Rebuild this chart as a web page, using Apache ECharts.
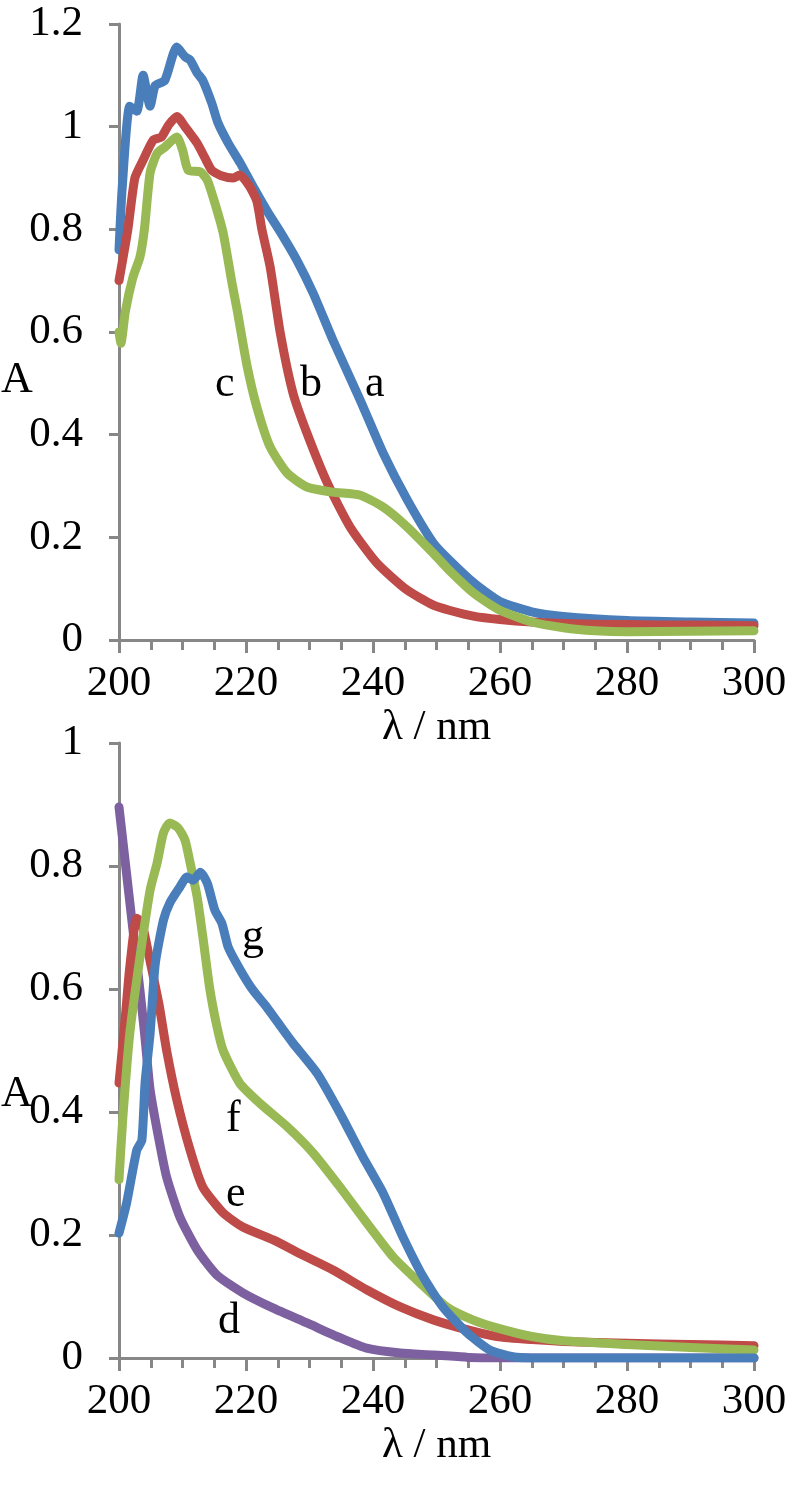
<!DOCTYPE html>
<html><head><meta charset="utf-8">
<script src="https://cdn.jsdelivr.net/npm/echarts@6/dist/echarts.min.js"></script>
<style>html,body{margin:0;padding:0;background:#fff}#c{width:790px;height:1485px}</style>
</head><body><div id="c"></div><script>
// ---- Data ----
const xTicks = [200, 220, 240, 260, 280, 300];

const lamA = [200,200.5,201.7,202.8,203.8,204.9,205.7,207.2,209.1,210.4,211.2,212.3,213.2,214.6,215.6,217.2,219.1,221.4,223.5,225.4,228,230.6,233.7,238,241.6,245.4,249.5,252,256,260,265,270,280,290,300];
const valA = [0.76,0.88,1.04,1.03,1.10,1.04,1.08,1.09,1.155,1.136,1.13,1.105,1.09,1.046,1.007,0.968,0.929,0.877,0.832,0.795,0.74,0.675,0.584,0.467,0.364,0.273,0.189,0.156,0.11,0.075,0.055,0.046,0.038,0.035,0.033];

const lamB = [200,201.4,202.5,203.8,205.4,206.7,207.8,209.1,210.4,212.3,213.5,214.6,216,218,219,220.5,221.7,222.5,223.8,225.4,227.4,229.6,232.8,236.4,240.6,245.4,249.5,252,256,260,265,270,280,290,300];
const valB = [0.70,0.80,0.90,0.935,0.974,0.98,1.003,1.02,1.0,0.968,0.94,0.915,0.905,0.90,0.906,0.885,0.855,0.80,0.727,0.598,0.481,0.403,0.306,0.22,0.15,0.097,0.068,0.058,0.046,0.04,0.035,0.032,0.03,0.029,0.028];

const lamC = [200,200.3,201,202.2,203.3,204,204.9,206,207.2,209.1,210,210.9,212.8,213.9,215.1,216.4,217.8,218.6,220.2,221.7,223.8,226.5,229.6,233.7,238,241.6,245.4,249.5,252,256,260,265,270,275,280,290,300];
const valC = [0.60,0.578,0.64,0.707,0.746,0.80,0.91,0.948,0.96,0.98,0.955,0.915,0.912,0.896,0.851,0.793,0.695,0.643,0.532,0.454,0.376,0.325,0.298,0.288,0.282,0.259,0.22,0.169,0.136,0.09,0.058,0.035,0.024,0.018,0.016,0.017,0.018];

const lamD = [200,201,202.2,203.3,204.1,204.9,206.2,207.5,209.6,212.3,215.4,219.5,224.3,229.6,234.8,239,244.3,249.5,255,260,280,300];
const valD = [0.896,0.805,0.696,0.598,0.52,0.436,0.36,0.294,0.229,0.176,0.135,0.106,0.081,0.057,0.033,0.016,0.008,0.005,0.001,0,0,0];

const lamE = [200,201,201.7,202.8,203.6,204.9,206.3,207.5,209.1,211.2,213.2,216.4,219.5,224.3,229,233.7,239,244.3,249.5,254.8,259.5,265,270,280,290,300];
const valE = [0.447,0.555,0.636,0.715,0.707,0.645,0.575,0.50,0.42,0.338,0.278,0.236,0.213,0.192,0.167,0.143,0.111,0.083,0.062,0.046,0.035,0.03,0.027,0.024,0.022,0.02];

const lamF = [200,200.6,201.7,203.3,204.9,206,207,208,209.3,210.4,211.2,212.3,213.2,214.3,215.4,216.4,219,222.2,226.5,230.6,234.8,239,243.2,247.4,251.6,255.7,259.5,265,270,280,290,300];
const valF = [0.29,0.39,0.528,0.652,0.761,0.805,0.854,0.87,0.862,0.842,0.805,0.75,0.685,0.60,0.54,0.50,0.447,0.414,0.376,0.333,0.278,0.22,0.164,0.122,0.083,0.062,0.049,0.035,0.028,0.022,0.017,0.013];

const lamG = [200,201.2,202.8,203.6,204.1,204.9,205.7,207,208,209.6,210.7,211.7,212.8,213.9,215.1,216.2,217.2,219.1,221.1,223.3,225.4,227.4,231.2,234.8,238.4,241.6,244.7,247.9,251,254.8,258.4,262,265,280,300];
const valG = [0.203,0.252,0.338,0.354,0.447,0.528,0.64,0.712,0.74,0.766,0.782,0.777,0.79,0.772,0.728,0.707,0.668,0.631,0.598,0.57,0.54,0.512,0.463,0.398,0.327,0.268,0.197,0.132,0.083,0.041,0.013,0.002,0,0,0];

const seriesNames = ['a','b','c','d','e','f','g'];

// ---- Styling ----
const FONT = 'Liberation Serif';
const AX = '#878787';
const COLORS = {a:'#4a7ebb', b:'#be4b48', c:'#98b954', d:'#7d60a0', e:'#be4b48', f:'#98b954', g:'#4a7ebb'};

function zip(l, v) { return l.map((x, i) => [x, v[i]]); }

function xAxis(gi) {
  return {
    type: 'value', gridIndex: gi, min: xTicks[0], max: xTicks[xTicks.length-1], interval: 20,
    axisLine: {show: true, onZero: false, lineStyle: {color: AX, width: 3}},
    axisTick: {show: true, inside: false, length: 13, lineStyle: {color: AX, width: 3}},
    minorTick: {show: true, splitNumber: 4, length: 10, lineStyle: {color: AX, width: 3}},
    splitLine: {show: false},
    axisLabel: {fontFamily: FONT, fontSize: 43, color: '#000', margin: 22},
    name: 'λ / nm', nameLocation: 'middle', nameGap: 54,
    nameTextStyle: {fontFamily: FONT, fontSize: 43, color: '#000'}
  };
}
function yAxis(gi, max) {
  return {
    type: 'value', gridIndex: gi, min: 0, max: max, interval: 0.2,
    axisLine: {show: true, onZero: false, lineStyle: {color: AX, width: 3}},
    axisTick: {show: true, inside: false, length: 10, lineStyle: {color: AX, width: 3}},
    splitLine: {show: false},
    axisLabel: {fontFamily: FONT, fontSize: 43, color: '#000', margin: 36,
      formatter: v => String(+v.toFixed(1))}
  };
}
function line(name, lam, val, gi) {
  return {
    name: name, type: 'line', xAxisIndex: gi, yAxisIndex: gi,
    data: zip(lam, val), showSymbol: false, symbol: 'none',
    smooth: 0.2,
    lineStyle: {width: 9, color: COLORS[name], cap: 'round', join: 'round'},
    itemStyle: {color: COLORS[name]}, animation: false
  };
}
function txt(t, x, y) {
  return {type: 'text', left: x, top: y, style: {text: t, fontFamily: FONT, fontSize: 44, fill: '#000'}};
}

const chart = echarts.init(document.getElementById('c'), null, {renderer: 'canvas'});
chart.setOption({
  animation: false,
  backgroundColor: '#fff',
  grid: [
    {left: 119, right: 36, top: 24, height: 616},
    {left: 119, right: 36, top: 743, height: 615}
  ],
  xAxis: [xAxis(0), xAxis(1)],
  yAxis: [yAxis(0, 1.2), yAxis(1, 1)],
  series: [
    line('a', lamA, valA, 0), line('b', lamB, valB, 0), line('c', lamC, valC, 0),
    line('d', lamD, valD, 1), line('e', lamE, valE, 1), line('f', lamF, valF, 1), line('g', lamG, valG, 1)
  ],
  graphic: [
    txt('A', 1, 358), txt('A', 1, 1072),
    txt('c', 215, 362), txt('b', 300, 362), txt('a', 365, 362),
    txt('g', 242, 915), txt('f', 226, 1097), txt('e', 226, 1172), txt('d', 218, 1299)
  ]
});
</script></body></html>
